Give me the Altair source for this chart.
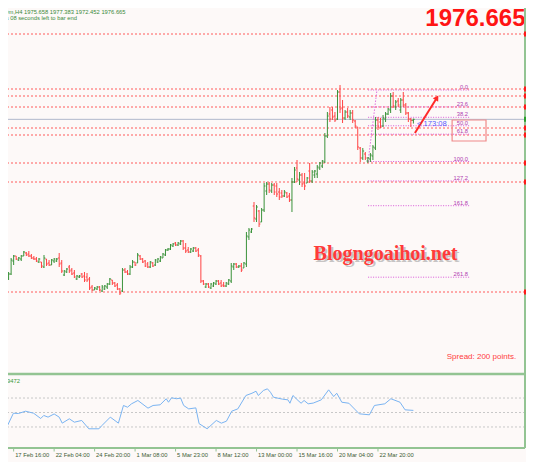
import altair as alt
import pandas as pd

# ---------------- data ----------------
bar_index = list(range(164))
opens = [1838,1830,1825,1818,1822,1835,1840,1836,1837,1840,
         1843,1842,1840,1838,1837,1834,1834,1829,1837,1833,
         1831,1835,1835,1838,1833,1821,1824,1829,1826,1823,
         1817,1819,1822,1820,1819,1817,1809,1806,1807,1809,
         1805,1807,1809,1812,1816,1813,1811,1807,1805,1826,
         1824,1822,1829,1834,1833,1840,1837,1835,1832,1829,
         1833,1831,1834,1835,1838,1841,1846,1847,1850,1853,
         1851,1852,1855,1848,1846,1844,1845,1848,1846,1840,
         1815,1809,1812,1808,1810,1812,1815,1813,1811,1810,
         1812,1815,1829,1832,1829,1830,1828,1832,1859,1864,
         1890,1877,1885,1874,1886,1905,1912,1905,1911,1910,
         1904,1903,1900,1903,1900,1896,1914,1928,1916,1921,
         1913,1913,1925,1915,1921,1922,1928,1930,1934,1960,
         1982,1986,1980,1977,2004,1988,1978,1984,1979,1983,
         1975,1969,1948,1938,1942,1935,1937,1940,1948,1976,
         1974,1970,1977,1982,1986,2000,1989,1995,1986,1996,
         1991,1983,1977,1975.658]
highs = [1840,1831,1826,1824,1838,1841,1840,1839,1841,1845,
         1844,1845,1842,1840,1839,1838,1834,1841,1837,1836,
         1837,1838,1838,1843,1836,1826,1828,1831,1828,1826,
         1821,1821,1823,1824,1823,1819,1811,1809,1810,1810,
         1811,1811,1813,1818,1816,1814,1813,1808,1828,1828,
         1826,1831,1836,1834,1843,1841,1838,1836,1834,1835,
         1834,1837,1838,1840,1843,1847,1848,1852,1853,1854,
         1854,1856,1856,1853,1849,1848,1849,1849,1848,1841,
         1816,1813,1813,1813,1814,1816,1816,1816,1814,1814,
         1817,1833,1833,1833,1831,1833,1834,1864,1868,1868,
         1894,1891,1886,1888,1913,1914,1914,1913,1913,1913,
         1908,1906,1906,1904,1903,1918,1929,1936,1924,1923,
         1923,1919,1933,1926,1926,1931,1934,1936,1963,1984,
         1989,1989,1984,2006,2011,1996,1986,1988,1986,1986,
         1976,1969,1949,1948,1944,1939,1943,1951,1979,1979,
         1978,1981,1984,1988,2003,2004,1996,1998,1998,2004,
         1993,1984,1978,1977.383]
lows = [1829,1824,1820,1816,1821,1831,1836,1835,1835,1840,
        1840,1839,1837,1836,1834,1833,1828,1828,1830,1830,
        1831,1833,1834,1829,1823,1820,1823,1823,1821,1818,
        1816,1818,1818,1814,1814,1806,1805,1806,1806,1805,
        1804,1806,1807,1811,1811,1809,1806,1801,1804,1823,
        1821,1821,1828,1830,1833,1836,1833,1829,1828,1828,
        1829,1830,1833,1834,1838,1840,1845,1846,1849,1850,
        1850,1851,1846,1843,1843,1843,1844,1844,1839,1813,
        1811,1808,1808,1807,1809,1811,1811,1809,1809,1809,
        1811,1813,1826,1828,1828,1824,1828,1829,1856,1863,
        1874,1874,1869,1874,1884,1901,1903,1903,1901,1899,
        1896,1898,1899,1898,1894,1884,1913,1914,1911,1909,
        1906,1913,1913,1913,1918,1918,1926,1928,1933,1958,
        1974,1976,1974,1976,1983,1973,1976,1978,1976,1973,
        1968,1946,1934,1936,1936,1933,1934,1936,1946,1966,
        1968,1969,1974,1981,1983,1988,1986,1989,1983,1989,
        1981,1974,1969,1972.452]
closes = [1831,1826,1821,1822,1836,1840,1837,1838,1840,1844,
          1841,1840,1838,1837,1835,1837,1830,1838,1832,1831,
          1836,1837,1837,1832,1825,1825,1827,1825,1822,1819,
          1820,1820,1819,1816,1816,1808,1806,1808,1809,1806,
          1809,1810,1812,1817,1813,1810,1807,1803,1826,1824,
          1822,1829,1834,1831,1841,1837,1834,1830,1829,1834,
          1830,1836,1837,1839,1842,1846,1847,1851,1852,1851,
          1853,1855,1848,1845,1844,1847,1848,1845,1841,1815,
          1812,1812,1809,1812,1813,1815,1812,1810,1810,1813,
          1816,1830,1832,1829,1830,1826,1833,1860,1866,1867,
          1878,1889,1872,1886,1910,1912,1906,1911,1904,1902,
          1899,1900,1904,1899,1896,1914,1926,1917,1921,1912,
          1910,1918,1915,1924,1925,1929,1933,1935,1960,1980,
          1977,1979,1976,2004,1987,1978,1984,1980,1983,1976,
          1970,1949,1938,1945,1938,1938,1941,1949,1976,1969,
          1969,1978,1982,1987,2000,1990,1994,1991,1996,1991,
          1983,1977,1975.66,1976.665]

rsi_x = [0, 2.4, 4.9, 6.9, 9.7, 12.9, 15.7, 16.9, 18.6, 21, 23, 24.2, 27, 29, 31.9,
         34.7, 38.7, 39.9, 43.2, 46.4, 48.4, 50, 51.6, 54.1, 58.1, 60.1, 62.9, 65.3,
         66.2, 67.4, 69.4, 71, 72.2, 74.2, 77, 78.3, 81.5, 85.1, 87.1, 89.1, 91.2,
         93.6, 96.8, 99.2, 100.8, 101.7, 103.7, 105.3, 106.5, 107.7, 111.3, 113.4,
         114.2, 115.4, 117.4, 118.6, 119.8, 121.4, 123.4, 126.6, 129.5, 131.5, 132.7,
         134.7, 137.5, 141.6, 145.6, 147.6, 151.7, 154.1, 157.7, 159.7, 163]
rsi_v = [40, 30.7, 49, 48.6, 51.8, 49, 41.7, 45.9, 43.6, 48, 43.6, 35.3, 41.3, 36.6, 39,
         27.5, 27.5, 32, 43.6, 35.3, 59.7, 57.3, 62, 66.6, 56, 59.7, 60.6, 69,
         64.2, 70.3, 69, 69.9, 59.7, 55, 56.4, 34.6, 27.5, 39, 35.3, 38, 51.8,
         55, 73.5, 76.6, 79.4, 73.5, 80.4, 82.7, 78, 71.1, 68.4, 67.5,
         62.8, 73.5, 66.6, 62.8, 66.6, 62, 63, 67.5, 81.3, 72, 76.6,
         64.2, 62.8, 48.2, 46.8, 59.7, 62, 69, 64.2, 53.7, 52.9]
rsi_levels = [70, 50, 30]

hline_prices = [2062, 2007, 2000, 1989, 1968, 1961, 1933, 1914, 1804]
current_price = 1976.665

fib_labels = ["0.0", "23.6", "38.2", "50.0", "61.8", "100.0", "127.2", "161.8", "261.8"]
fib_prices = [2006.0, 1989.1, 1978.7, 1970.25, 1961.8, 1934.5, 1915.05, 1890.3, 1818.8]
fib_start, fib_end, fib_label_x = 145.1, 185.4, 184.6
fib_diag_x = [145.1, 148.6]
fib_diag_p = [1934.5, 2006.0]

arrow_x = [163.6, 172.3]
arrow_p = [1963, 1998.3]
box_x = [178.3, 191.7]
box_p = [1976, 1955]

tick_idx = [5, 21, 37, 53, 69, 85, 101, 117, 133, 149]
tick_labels = ["17 Feb 16:00", "22 Feb 04:00", "24 Feb 20:00", "1 Mar 08:00", "5 Mar 23:00",
               "8 Mar 12:00", "13 Mar 00:00", "15 Mar 16:00", "20 Mar 04:00", "22 Mar 20:00"]

# ---------------- style ----------------
W, H = 517, 440
FONT = "Liberation Sans"
BULL, BEAR = "#3a923a", "#ff4444"
BORDER = "#93c493"
BG = "#fdf9f8"

xs = alt.Scale(domain=[2.767, 207.11], nice=False, zero=False)
ps = alt.Scale(domain=[1724, 2088], range=[364, 0], nice=False, zero=False)
rs = alt.Scale(domain=[0, 100], range=[440.7, 368.3], nice=False, zero=False)


def X(f="i"):
    return alt.X(f"{f}:Q", scale=xs, axis=None, title=None)


def P(f):
    return alt.Y(f"{f}:Q", scale=ps, axis=None, title=None)


def R(f):
    return alt.Y(f"{f}:Q", scale=rs, axis=None, title=None)


bars = pd.DataFrame({"i": bar_index, "o": opens, "h": highs, "l": lows, "c": closes})
col = alt.when(alt.datum.c >= alt.datum.o).then(alt.value(BULL)).otherwise(alt.value(BEAR))

hlines = alt.Chart(pd.DataFrame({"p": hline_prices})).mark_rule(
    color="#ff5a5a", strokeDash=[2, 2], strokeWidth=1).encode(y=P("p"))
cur = alt.Chart(pd.DataFrame({"p": [current_price]})).mark_rule(
    color="#b0b8cc", strokeWidth=1).encode(y=P("p"))

fib_df = pd.DataFrame({"p": fib_prices, "t": fib_labels, "x1": fib_start, "x2": fib_end,
                       "xl": fib_label_x})
fib_lines = alt.Chart(fib_df).mark_rule(color="#d958d9", strokeDash=[1, 1.5], strokeWidth=1).encode(
    x=X("x1"), x2="x2:Q", y=P("p"))
fib_text = alt.Chart(fib_df).mark_text(align="right", baseline="alphabetic", dy=-1,
                                       fontSize=5.8, font=FONT, color="#b03cb0").encode(
    x=X("xl"), y=P("p"), text="t:N")
fib_diag = alt.Chart(pd.DataFrame({"x": fib_diag_x, "p": fib_diag_p})).mark_line(
    color="#e070e0", strokeDash=[1.5, 1.5], strokeWidth=1).encode(x=X("x"), y=P("p"))

hl = alt.Chart(bars).mark_rule(strokeWidth=1, clip=True).encode(
    x=X("i"), y=P("l"), y2="h:Q", color=col)
otick = alt.Chart(bars).mark_rule(strokeWidth=1, clip=True, xOffset=-1.3, x2Offset=0).encode(
    x=X("i"), x2="i:Q", y=P("o"), color=col)
ctick = alt.Chart(bars).mark_rule(strokeWidth=1, clip=True, xOffset=0, x2Offset=1.3).encode(
    x=X("i"), x2="i:Q", y=P("c"), color=col)

arrow_df = pd.DataFrame({"x": arrow_x, "p": arrow_p})
arrow_line = alt.Chart(arrow_df).mark_line(color="#ff2a2a", strokeWidth=2).encode(x=X("x"), y=P("p"))
arrow_head = alt.Chart(arrow_df.tail(1)).mark_point(shape="triangle-up", filled=True, size=40,
                                                   angle=32, color="#ff2a2a", opacity=1).encode(
    x=X("x"), y=P("p"))
box = alt.Chart(pd.DataFrame({"x1": [box_x[0]], "x2": [box_x[1]], "p1": [box_p[0]], "p2": [box_p[1]]})
                ).mark_rect(fillOpacity=0, stroke="#f08a8a", strokeWidth=1.2).encode(
    x=X("x1"), x2="x2:Q", y=P("p1"), y2="p2:Q")

ann = pd.DataFrame({
    "x": [152.0, 207.3, 203.6, 164.4, -6.56, -9.5],
    "p": [1836, 2070.3, 1737.5, 1970.3, 2082.5, 2076],
    "t": ["Blogngoaihoi.net", "1976.665", "Spread: 200 points.", "< 173:08",
          "XAUUSDm,H4  1975.658 1977.383 1972.452 1976.665",
          "173 minutes 08 seconds left to bar end"],
})


def text_row(k, **kw):
    return alt.Chart(ann.iloc[[k]]).mark_text(baseline="alphabetic", **kw).encode(
        x=X("x"), y=P("p"), text="t:N")


wm_shadow = text_row(0, align="center", font="Liberation Serif", fontWeight="bold", fontSize=20,
                     color="#777777", opacity=0.4, dx=2, dy=2)
wm = text_row(0, align="center", font="Liberation Serif", fontWeight="bold", fontSize=20,
              color="#ff3a3a")
big = text_row(1, align="right", font=FONT, fontWeight="bold", fontSize=24, color="#ff1414")
spread = text_row(2, align="right", font=FONT, fontSize=8, color="#ff4040")
countdown = text_row(3, align="left", font=FONT, fontSize=7.6, color="#5a5aff")
head1 = text_row(4, align="left", font=FONT, fontSize=5.8, color="#3a8a3a")
head2 = text_row(5, align="left", font=FONT, fontSize=5.8, color="#3a8a3a")

mark_df = pd.DataFrame({"p": hline_prices})
red_marks = alt.Chart(mark_df).mark_point(shape="square", filled=True, size=25, color="#ff1a1a",
                                          opacity=1).encode(x=alt.value(W + 1.5), y=P("p"))
green_mark = alt.Chart(pd.DataFrame({"p": [current_price]})).mark_point(
    shape="square", filled=True, size=25, color="#2aa02a", opacity=1).encode(
    x=alt.value(W + 1.5), y=P("p"))

rsi_df = pd.DataFrame({"x": rsi_x, "v": rsi_v})
rsi_lv = alt.Chart(pd.DataFrame({"v": rsi_levels})).mark_rule(
    color="#c8c8c8", strokeDash=[2, 2], strokeWidth=1).encode(y=R("v"))
rsi_line = alt.Chart(rsi_df).mark_line(color="#7ab4f2", strokeWidth=1, clip=True).encode(
    x=X("x"), y=R("v"))
rsi_lab = alt.Chart(pd.DataFrame({"x": [7.5], "v": [90.7], "t": ["RSI(14) 52.9472"]})).mark_text(
    align="right", baseline="alphabetic", font=FONT, fontSize=5.8, color="#3a9a3a").encode(
    x=X("x"), y=R("v"), text="t:N")

# time axis (ticks + labels positioned with the x scale)
tick_df = pd.DataFrame({"i": tick_idx, "t": tick_labels})
t_ticks = alt.Chart(tick_df).mark_rule(color=BORDER, strokeWidth=1).encode(
    x=X("i"), y=alt.value(H), y2=alt.value(H + 3.5))
t_labels = alt.Chart(tick_df).mark_text(align="left", baseline="top", dx=1.5, font=FONT,
                                        fontSize=5.8, color="#3d5d35").encode(
    x=X("i"), y=alt.value(H + 4), text="t:N")

one = pd.DataFrame({"a": [0]})
sep = alt.Chart(one).mark_rule(color=BORDER, strokeWidth=2.5).encode(
    x=alt.value(0), x2=alt.value(W), y=alt.value(366))
rborder = alt.Chart(one).mark_rule(color=BORDER, strokeWidth=2).encode(
    x=alt.value(W), y=alt.value(0), y2=alt.value(H))
bborder = alt.Chart(one).mark_rule(color=BORDER, strokeWidth=2).encode(
    x=alt.value(0), x2=alt.value(W), y=alt.value(H))

chart = alt.layer(
    hlines, cur, fib_lines, fib_diag, hl, otick, ctick, fib_text, box,
    arrow_line, arrow_head, wm_shadow, wm, big, spread, countdown, head1, head2,
    rsi_lv, rsi_line, rsi_lab, sep, rborder, bborder, t_ticks, t_labels, red_marks, green_mark,
).resolve_scale(y="independent").properties(
    width=W, height=H, background=BG,
    autosize=alt.AutoSizeParams(type="none"),
    padding={"left": 0, "top": 0, "right": 1, "bottom": 14},
).configure_view(stroke=None)

chart.save("out.html", embed_options={"renderer": "svg", "actions": False})
